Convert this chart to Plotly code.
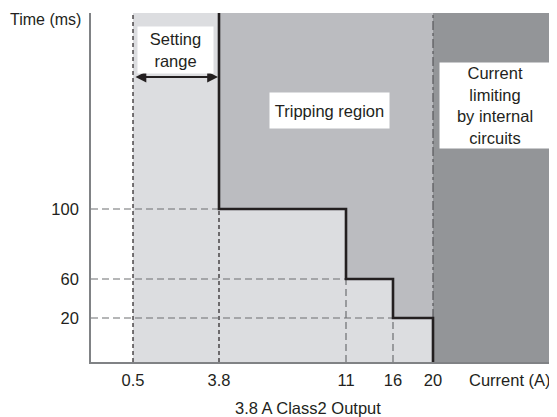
import plotly.graph_objects as go

# ---- data -------------------------------------------------------------
current_ticks = [0.5, 3.8, 11, 16, 20]          # A
current_labels = ["0.5", "3.8", "11", "16", "20"]
time_ticks = [20, 60, 100]                       # ms
time_labels = ["20", "60", "100"]

setting_min, setting_max = 0.5, 3.8              # setting range (A)
limit_current = 20                               # current limiting (A)
trip_current = [3.8, 11, 16, 20]                 # step edges (A)
trip_time = [100, 60, 20]                        # trip time after each edge (ms)

# ---- schematic (non-proportional) axis layout ---------------------------
X_SLOT = dict(zip(current_ticks, [42, 128, 255, 302, 342]))
Y_SLOT = dict(zip(time_ticks, [44, 83, 153]))
X_MAX, Y_MAX = 466, 349

def xp(v):
    return X_SLOT[v]

def yp(v):
    return Y_SLOT[v]

def px(x):  # data x -> paper x
    return x / X_MAX

def py(y):  # data y -> paper y
    return y / Y_MAX

FONT = "Liberation Sans, Arial, sans-serif"
TXT = "#231f20"
LIGHT = "#dcdde0"
MID = "#bbbcc0"
DARK = "#939598"
FS = 16.5

fig = go.Figure()

# tripping region boundary (step curve) built from the data
sx = [xp(trip_current[0])]
sy = [Y_MAX]
for i, t in enumerate(trip_time):
    sx += [xp(trip_current[i]), xp(trip_current[i + 1])]
    sy += [yp(t), yp(t)]
sx += [xp(trip_current[-1])]
sy += [0]

# filled tripping region (above the step curve)
fx = sx[:-1] + [xp(trip_current[-1])]
fy = sy[:-1] + [Y_MAX]
fig.add_trace(go.Scatter(x=fx, y=fy, fill="toself", fillcolor=MID,
                         mode="lines", line=dict(width=0), hoverinfo="skip"))

# guide lines
gray_dash = dict(color="#6d6e71", width=1.2, dash="7px,4px")
black_dash = dict(color="#231f20", width=1.2, dash="4px,3px")
for i, t in enumerate(trip_time):
    c = trip_current[i]
    fig.add_trace(go.Scatter(x=[0, xp(c)], y=[yp(t), yp(t)], mode="lines",
                             line=gray_dash, hoverinfo="skip"))
    fig.add_trace(go.Scatter(x=[xp(c), xp(c)], y=[0, yp(t)], mode="lines",
                             line=black_dash if i == 0 else gray_dash,
                             hoverinfo="skip"))
fig.add_trace(go.Scatter(x=[xp(setting_min)] * 2, y=[0, Y_MAX], mode="lines",
                         line=black_dash, hoverinfo="skip"))
fig.add_trace(go.Scatter(x=[xp(limit_current)] * 2, y=[yp(trip_time[-1]), Y_MAX],
                         mode="lines",
                         line=dict(color="#58595b", width=1.2, dash="dashdot"),
                         hoverinfo="skip"))

# step curve
fig.add_trace(go.Scatter(x=sx, y=sy, mode="lines",
                         line=dict(color="#231f20", width=2.6), hoverinfo="skip"))

shapes = [
    dict(type="rect", layer="below", x0=xp(setting_min), x1=xp(limit_current),
         y0=0, y1=Y_MAX, fillcolor=LIGHT, line=dict(width=0)),
    dict(type="rect", layer="below", x0=xp(limit_current), x1=X_MAX,
         y0=0, y1=Y_MAX, fillcolor=DARK, line=dict(width=0)),
]

def label(x, y, text, size=FS, **kw):
    d = dict(x=px(x), y=py(y), xref="paper", yref="paper", text=text,
             showarrow=False, xanchor="center", yanchor="middle",
             font=dict(family=FONT, size=size, color=TXT))
    d.update(kw)
    return d

annotations = [
    # setting range arrow
    dict(x=xp(setting_max) - 1, y=285, ax=xp(setting_min) + 1, ay=285,
         xref="x", yref="y", axref="x", ayref="y", text="", showarrow=True,
         arrowhead=2, arrowside="end+start", arrowsize=1.2, arrowwidth=1.8,
         arrowcolor="#231f20"),
    label(84.5, 312, "Setting<br>range", bgcolor="white", width=75, height=46,
          borderpad=0),
    label(238.5, 251.5, "Tripping region", bgcolor="white", width=119,
          height=35, borderpad=0),
    label(404, 256.5, "Current<br>limiting<br>by internal<br>circuits",
          bgcolor="white", width=110, height=85, borderpad=0),
    label(-8, 342, "Time (ms)", size=16, xanchor="right"),
    label(419, -18, "Current (A)"),
    label(217, -46, "3.8 A Class2 Output"),
]

# page body has an 8px default margin: figure = window minus that offset
fig.update_layout(
    width=549, height=409,
    margin=dict(l=83, r=0, t=5, b=55),
    paper_bgcolor="white", plot_bgcolor="white",
    showlegend=False,
    shapes=shapes, annotations=annotations,
    font=dict(family=FONT, size=FS, color=TXT),
    xaxis=dict(range=[0, X_MAX], showgrid=False, zeroline=False,
               showline=True, linecolor="#808285", linewidth=1.6,
               tickvals=[xp(v) for v in current_ticks], ticktext=current_labels,
               ticks="outside", ticklen=2, tickcolor="rgba(0,0,0,0)",
               tickfont=dict(family=FONT, size=FS, color=TXT), fixedrange=True),
    yaxis=dict(range=[0, Y_MAX], showgrid=False, zeroline=False,
               showline=True, linecolor="#808285", linewidth=1.6,
               tickvals=[yp(v) for v in time_ticks], ticktext=time_labels,
               ticks="outside", ticklen=7, tickcolor="rgba(0,0,0,0)",
               tickfont=dict(family=FONT, size=FS, color=TXT), fixedrange=True),
)

fig.write_html("out.html")
